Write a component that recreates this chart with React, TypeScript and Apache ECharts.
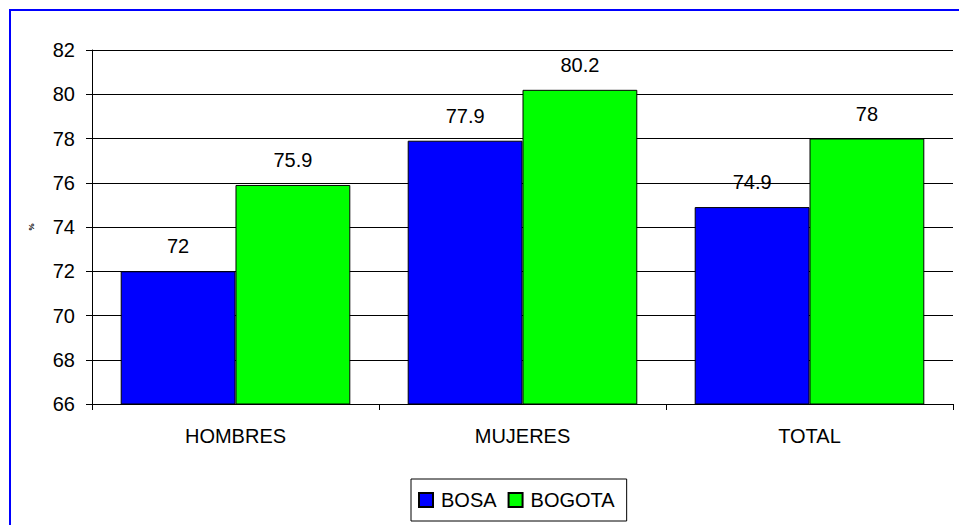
import React, { useEffect, useRef } from "react";
import * as echarts from "echarts";

const categories = ["HOMBRES", "MUJERES", "TOTAL"];
const bosa = [72, 77.9, 74.9];
const bogota = [75.9, 80.2, 78];
const seriesNames = ["BOSA", "BOGOTA"];
const yAxisName = "%";

const FONT = "'Liberation Sans', Arial, sans-serif";

export default function App() {
  const ref = useRef<HTMLDivElement>(null);
  useEffect(() => {
    if (!ref.current) return;
    const chart = echarts.init(ref.current, null, { renderer: "svg" });
    const labelCfg = {
      show: true,
      position: "top",
      distance: 15,
      color: "#000",
      fontSize: 20,
      fontFamily: FONT,
    };
    chart.setOption({
      animation: false,
      backgroundColor: "#fff",
      textStyle: { fontFamily: FONT, color: "#000" },
      graphic: [
        {
          type: "rect",
          shape: { x: 10, y: 10, width: 1000, height: 600 },
          style: { fill: "none", stroke: "#0000FF", lineWidth: 2 },
          silent: true,
          z: -1,
        },
      ],
      grid: { left: 92, right: 6, top: 50, bottom: 121, containLabel: false },
      legend: {
        left: 411,
        top: 479,
        orient: "horizontal",
        padding: [11, 12, 11, 7],
        borderColor: "#000",
        borderWidth: 1,
        itemWidth: 14,
        itemHeight: 14,
        itemGap: 11,
        icon: "rect",
        textStyle: {
          fontSize: 20,
          fontFamily: FONT,
          color: "#000",
          padding: [0, 0, 0, 3],
          lineHeight: 20,
        },
        data: seriesNames,
      },
      xAxis: {
        type: "category",
        data: categories,
        axisLine: { show: true, lineStyle: { color: "#000", width: 1 } },
        axisTick: { show: true, alignWithLabel: false, length: 6, lineStyle: { color: "#000" } },
        axisLabel: { color: "#000", fontSize: 20, fontFamily: FONT, margin: 22 },
        splitLine: { show: false },
      },
      yAxis: {
        type: "value",
        min: 66,
        max: 82,
        interval: 2,
        name: yAxisName,
        nameLocation: "middle",
        nameGap: 57,
        nameRotate: 90,
        nameTextStyle: { fontSize: 8, fontWeight: "bold", color: "#000", fontFamily: FONT },
        axisLine: { show: true, lineStyle: { color: "#000", width: 1 } },
        axisTick: { show: true, inside: false, length: 6, lineStyle: { color: "#000" } },
        axisLabel: { color: "#000", fontSize: 20, fontFamily: FONT, margin: 17 },
        splitLine: { show: true, lineStyle: { color: "#000", width: 1 } },
      },
      series: [
        {
          name: seriesNames[0],
          type: "bar",
          data: bosa,
          barGap: "0%",
          barCategoryGap: "20%",
          itemStyle: { color: "#0000FF", borderColor: "#000", borderWidth: 1 },
          label: labelCfg,
        },
        {
          name: seriesNames[1],
          type: "bar",
          data: bogota,
          barGap: "0%",
          barCategoryGap: "20%",
          itemStyle: { color: "#00FF00", borderColor: "#000", borderWidth: 1 },
          label: labelCfg,
        },
      ],
    });
    return () => chart.dispose();
  }, []);
  return (
    <div
      ref={ref}
      style={{ position: "fixed", left: 0, top: 0, width: 959, height: 525 }}
    />
  );
}
